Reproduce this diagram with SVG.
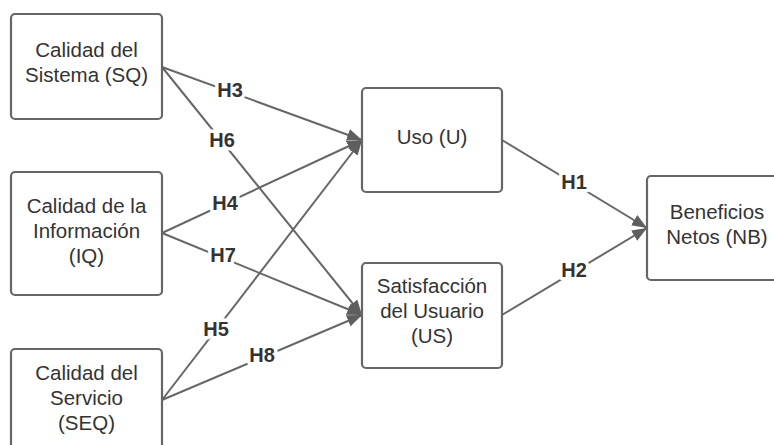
<svg xmlns="http://www.w3.org/2000/svg" width="774" height="445" viewBox="0 0 774 445">
<defs>
<marker id="arr" markerUnits="userSpaceOnUse" markerWidth="16" markerHeight="12" refX="15" refY="6" orient="auto">
<path d="M0,0 L15,6 L0,12 z" fill="#5e5e5e"/>
</marker>
<style>
.box{fill:#fff;stroke:#666;stroke-width:2.2}
.t{font-family:"Liberation Sans",Arial,sans-serif;font-size:20.5px;fill:#333;text-anchor:middle}
.edge{fill:none;stroke:#666;stroke-width:2}
.lbl{font-family:"Liberation Sans",Arial,sans-serif;font-size:20px;font-weight:bold;fill:#333;text-anchor:middle;stroke:#fff;stroke-width:7;paint-order:stroke;stroke-linejoin:round}
</style>
</defs>
<rect width="774" height="445" fill="#fff"/>
<g id="connectors">
<line class="edge" x1="162" y1="67" x2="362" y2="140" marker-end="url(#arr)"/>
<line class="edge" x1="162" y1="67" x2="362" y2="315" marker-end="url(#arr)"/>
<line class="edge" x1="162" y1="233" x2="362" y2="140" marker-end="url(#arr)"/>
<line class="edge" x1="162" y1="233" x2="362" y2="315" marker-end="url(#arr)"/>
<line class="edge" x1="162" y1="400" x2="362" y2="140" marker-end="url(#arr)"/>
<line class="edge" x1="162" y1="400" x2="362" y2="315" marker-end="url(#arr)"/>
<line class="edge" x1="502" y1="140" x2="647" y2="228" marker-end="url(#arr)"/>
<line class="edge" x1="502" y1="315" x2="647" y2="228" marker-end="url(#arr)"/>
<text class="lbl" x="230" y="97">H3</text>
<text class="lbl" x="222" y="147">H6</text>
<text class="lbl" x="225" y="210">H4</text>
<text class="lbl" x="223" y="262">H7</text>
<text class="lbl" x="216" y="336">H5</text>
<text class="lbl" x="262" y="362">H8</text>
<text class="lbl" x="574" y="189">H1</text>
<text class="lbl" x="574" y="277">H2</text>
</g>
<g id="SQ">
<rect class="box" x="11" y="14" width="151" height="105" rx="4"/>
<text class="t" x="86.5" y="57">Calidad del</text>
<text class="t" x="86.5" y="82">Sistema (SQ)</text>
</g>
<g id="IQ">
<rect class="box" x="11" y="172" width="151" height="123" rx="4"/>
<text class="t" x="86.5" y="213">Calidad de la</text>
<text class="t" x="86.5" y="238">Información</text>
<text class="t" x="86.5" y="263">(IQ)</text>
</g>
<g id="SEQ">
<rect class="box" x="11" y="349" width="151" height="103" rx="4"/>
<text class="t" x="86.5" y="380">Calidad del</text>
<text class="t" x="86.5" y="405">Servicio</text>
<text class="t" x="86.5" y="430">(SEQ)</text>
</g>
<g id="U">
<rect class="box" x="362" y="88" width="140" height="104" rx="4"/>
<text class="t" x="432" y="144">Uso (U)</text>
</g>
<g id="US">
<rect class="box" x="362" y="263" width="140" height="105" rx="4"/>
<text class="t" x="432" y="293">Satisfacción</text>
<text class="t" x="432" y="318">del Usuario</text>
<text class="t" x="432" y="343">(US)</text>
</g>
<g id="NB">
<rect class="box" x="647" y="176" width="140" height="104" rx="4"/>
<text class="t" x="717" y="219">Beneficios</text>
<text class="t" x="717" y="244">Netos (NB)</text>
</g>
</svg>
